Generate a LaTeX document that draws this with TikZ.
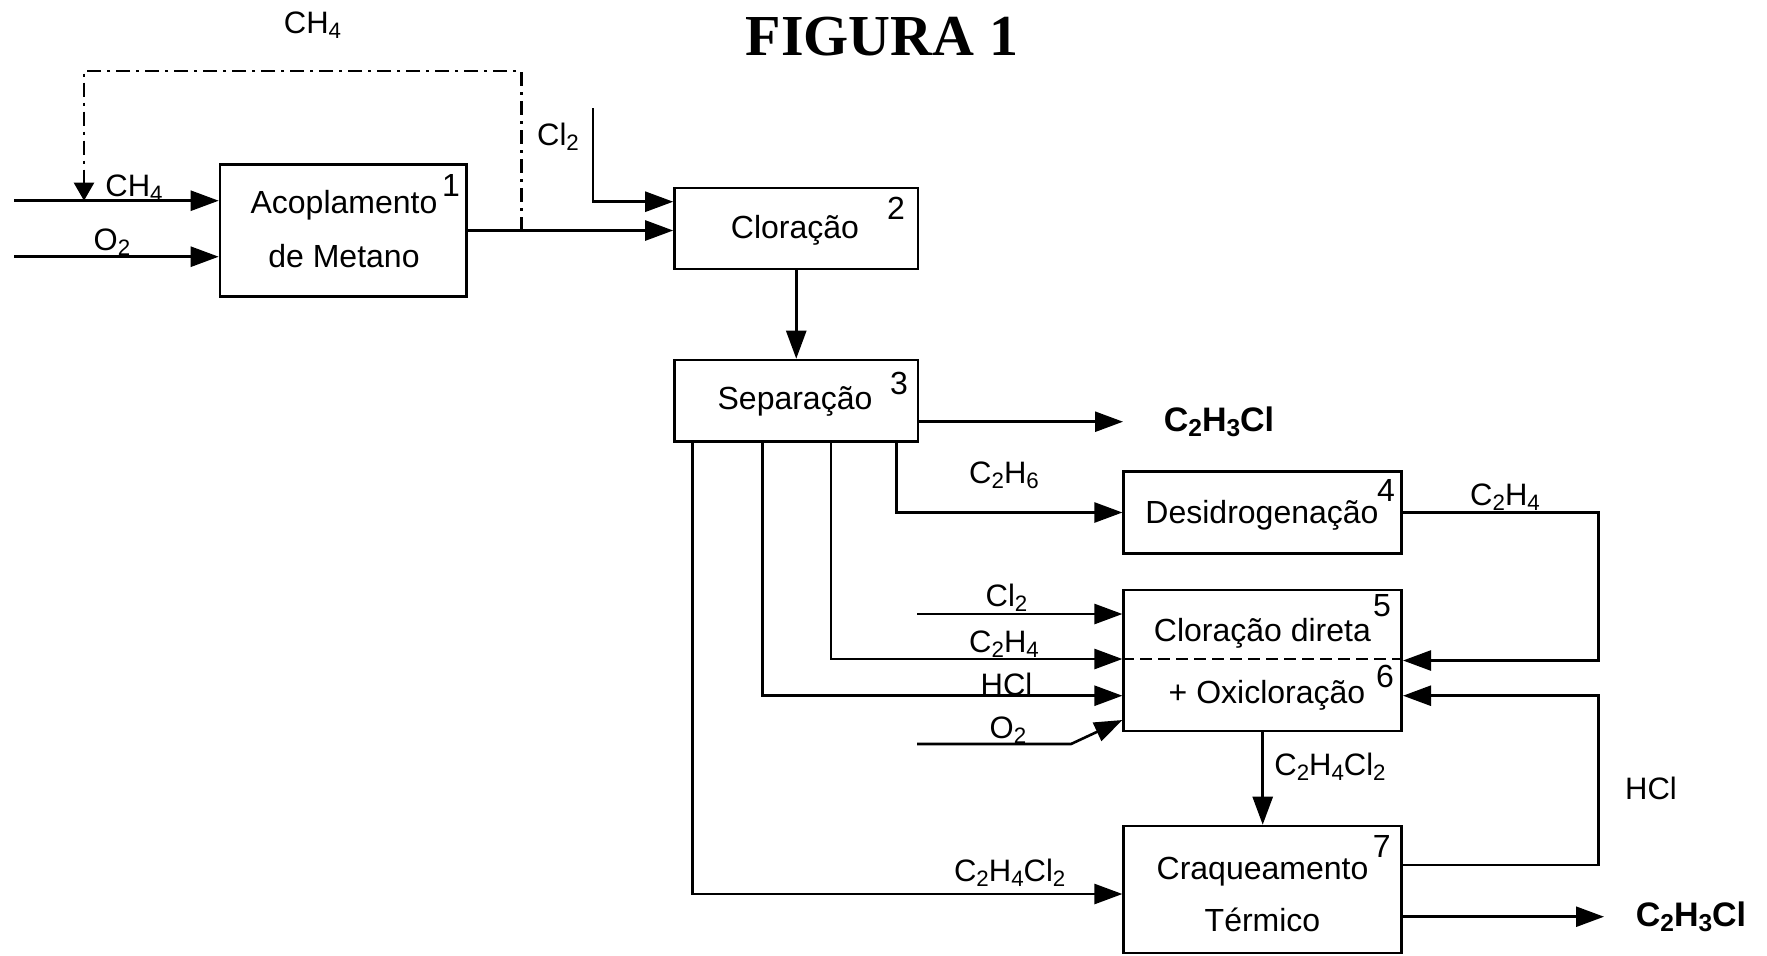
\documentclass[tikz,border=0pt]{standalone}
\usepackage{fontspec}
\setmainfont{Liberation Sans}
\newfontfamily\titlefont{Liberation Serif}
\usetikzlibrary{arrows.meta}
\newcommand{\ssub}[1]{\raisebox{-0.3ex}{\scalebox{0.72}{#1}}}
\begin{document}
\begin{tikzpicture}[x=0.5pt,y=-0.5pt,
  proc/.style={draw,line width=1.3pt,inner sep=0pt},
  flow/.style={line width=1.3pt,-{Triangle[length=14pt,width=10pt]}},
  txt/.style={inner sep=0pt,font=\fontsize{16}{19}\selectfont},
  lbl/.style={inner sep=0pt,font=\fontsize{15.5}{18}\selectfont},
  num/.style={inner sep=0pt,font=\fontsize{16}{19}\selectfont},
  prod/.style={inner sep=0pt,font=\fontsize{17}{20}\selectfont\bfseries},
  recycle/.style={line width=1.1pt,dash pattern=on 7pt off 3pt on 1.5pt off 3pt,-{Triangle[length=9pt,width=10pt]}},
  divider/.style={line width=1pt,dash pattern=on 6pt off 3pt}
]
\useasboundingbox (0,0) rectangle (1767,955);

% title
\node[inner sep=0pt,font={\fontsize{29}{31}\titlefont\bfseries}] (title) at (882,37) {FIGURA 1};

% process boxes
\node[proc,minimum width=123.25pt,minimum height=66.2pt] (acop) at (343.25,230.5) {};
\node[proc,minimum width=121.75pt,minimum height=40.5pt] (clor) at (796.25,228.5) {};
\node[proc,minimum width=121.75pt,minimum height=40.85pt] (sep) at (796.25,400.85) {};
\node[proc,minimum width=139pt,minimum height=40.8pt] (desid) at (1262.7,512.5) {};
\node[proc,minimum width=139pt,minimum height=70.5pt] (cd) at (1262.7,660.5) {};
\node[proc,minimum width=139pt,minimum height=63.5pt] (crack) at (1262.7,889.5) {};

% box texts
\node[txt] (acopA) at (344,205) {Acoplamento};
\node[txt] (acopB) at (344,256) {de Metano};
\node[num] (n1) at (451,185) {1};
\node[txt] (clorT) at (795,230) {Cloração};
\node[num] (n2) at (896,208) {2};
\node[txt] (sepT) at (795,401.7) {Separação};
\node[num] (n3) at (899,383) {3};
\node[txt] (desidT) at (1262,515) {Desidrogenação};
\node[num] (n4) at (1386,490) {4};
\node[txt] (cdA) at (1262.4,633.3) {Cloração direta};
\node[num] (n5) at (1382,606) {5};
\node[txt] (cdB) at (1267,695) {+ Oxicloração};
\node[num] (n6) at (1385,676) {6};
\node[txt] (crackA) at (1262.5,871.7) {Craqueamento};
\node[txt] (crackB) at (1262.5,920) {Térmico};
\node[num] (n7) at (1381.7,846) {7};

% divider inside box 5/6
\coordinate (dvl) at (1123.7,659);
\draw[divider] (dvl -| cd.west) -- (dvl -| cd.east);

% inputs to box 1
\coordinate (ch4in) at (14.3,200.7);
\coordinate (o2in) at (14.3,256.7);
\draw[flow] (ch4in) -- (ch4in -| acop.west);
\draw[flow] (o2in) -- (o2in -| acop.west);
\node[lbl] (lch4a) at (134,188) {CH\ssub{4}};
\node[lbl] (lo2a) at (112,242) {O\ssub{2}};

% box 1 -> box 2
\draw[flow] (acop.east) -- (acop.east -| clor.west);

% CH4 recycle (dash-dot)
\coordinate (rj) at (521.4,230.5);
\coordinate (rtop) at (521.4,70.7);
\coordinate (rleft) at (84,70.7);
\draw[recycle] (rj) -- (rtop) -- (rleft) -- (rleft |- ch4in);
\node[lbl] (lch4top) at (312.5,25) {CH\ssub{4}};

% Cl2 to box 2
\coordinate (cl2top) at (593,108.3);
\coordinate (cl2bend) at (593,201.7);
\draw[flow] (cl2top) -- (cl2bend) -- (cl2bend -| clor.west);
\node[lbl] (lcl2a) at (558,137) {Cl\ssub{2}};

% box 2 -> box 3
\draw[flow] (clor.south) -- (sep.north);

% product from box 3
\coordinate (prod1tip) at (1123,421.7);
\draw[flow] (prod1tip -| sep.east) -- (prod1tip);
\node[prod] (prod1) at (1219,421.7) {C\ssub{2}H\ssub{3}Cl};

% branches from box 3
\coordinate (b1) at (896.4,441.7);
\coordinate (b2) at (831,441.7);
\coordinate (b3) at (762.4,441.7);
\coordinate (b4) at (692.4,441.7);
\coordinate (hclin) at (1123.7,695.7);
\coordinate (edcin) at (1123.7,894);
\draw[flow] (b1) |- (desid.west);
\draw[flow] (b2) |- (dvl -| cd.west);
\draw[flow] (b3) |- (hclin -| cd.west);
\draw[flow] (b4) |- (edcin -| crack.west);
\node[lbl] (lc2h6) at (1004,475) {C\ssub{2}H\ssub{6}};
\node[lbl] (lc2h4a) at (1004,644) {C\ssub{2}H\ssub{4}};
\node[lbl] (lhcla) at (1006.5,684) {HCl};
\node[lbl] (ledca) at (1009.7,873) {C\ssub{2}H\ssub{4}Cl\ssub{2}};

% Cl2 and O2 to box 5/6
\coordinate (cl2b) at (917,614);
\draw[flow] (cl2b) -- (cl2b -| cd.west);
\node[lbl] (lcl2b) at (1006.5,598) {Cl\ssub{2}};
\coordinate (o2b) at (917,744);
\coordinate (o2k) at (1071,744);
\coordinate (o2t) at (1123.7,720);
\draw[flow] (o2b) -- (o2k) -- (o2t -| cd.west);
\node[lbl] (lo2b) at (1008,730) {O\ssub{2}};

% C2H4 recycle from box 4
\coordinate (rx) at (1598.3,500);
\draw[flow] (desid.east) -- (desid.east -| rx) |- (cd.east);
\node[lbl] (lc2h4b) at (1505,497) {C\ssub{2}H\ssub{4}};

% HCl recycle from box 7
\coordinate (hclout) at (1401.7,865);
\coordinate (hclret) at (1401.7,695.7);
\draw[flow] (hclout -| crack.east) -- (hclout -| rx) |- (hclret -| cd.east);
\node[lbl] (lhclb) at (1651,788) {HCl};

% box 5/6 -> box 7
\draw[flow] (cd.south) -- (crack.north);
\node[lbl] (ledcb) at (1330,767) {C\ssub{2}H\ssub{4}Cl\ssub{2}};

% product from box 7
\coordinate (prod2tip) at (1604,916.7);
\draw[flow] (prod2tip -| crack.east) -- (prod2tip);
\node[prod] (prod2) at (1691,916.7) {C\ssub{2}H\ssub{3}Cl};
\end{tikzpicture}
\end{document}
